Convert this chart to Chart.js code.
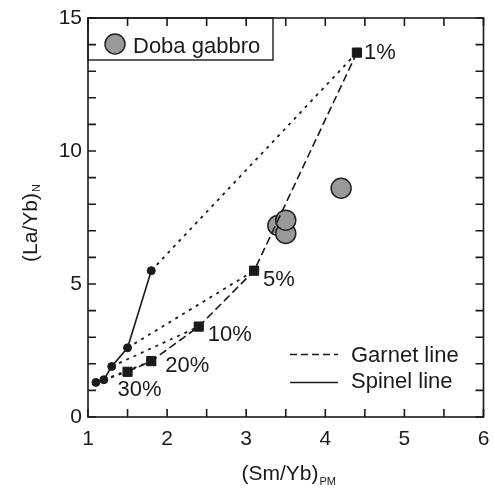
<!DOCTYPE html>
<html><head><meta charset="utf-8">
<script src="https://cdn.jsdelivr.net/npm/chart.js@4"></script>
<style>html,body{margin:0;padding:0;background:#fff}</style>
</head><body>
<canvas id="c" width="495" height="493"></canvas>
<script>
// ---- data ----
const garnetX = [4.4, 3.1, 2.4, 1.8, 1.5];
const garnetY = [13.7, 5.5, 3.4, 2.1, 1.7];
const garnetLabels = ['1%', '5%', '10%', '20%', '30%'];
const spinelX = [1.8, 1.5, 1.3, 1.2, 1.1];
const spinelY = [5.5, 2.6, 1.9, 1.4, 1.3];
const gabbroX = [3.4, 3.5, 3.5, 4.2];
const gabbroY = [7.2, 6.9, 7.4, 8.6];
const xTickLabels = [1, 2, 3, 4, 5, 6];
const yTickLabels = [0, 5, 10, 15];
const xTitle = '(Sm/Yb)', xTitleSub = 'PM';
const yTitle = '(La/Yb)', yTitleSub = 'N';
const legendGabbro = 'Doba gabbro';
const legendGarnet = 'Garnet line', legendSpinel = 'Spinel line';

const FONT = '"Liberation Sans", Arial, Helvetica, sans-serif';
const INK = '#1a1a1a';
const pts = (xs, ys) => xs.map((x, i) => ({x, y: ys[i]}));

const datasets = [];
datasets.push({label: 'garnet', data: pts(garnetX, garnetY), showLine: true,
  borderColor: INK, borderWidth: 1.6, borderDash: [8, 4], pointStyle: 'rect',
  pointRadius: 6.5, pointBackgroundColor: INK, pointBorderColor: INK, pointBorderWidth: 1, order: 1});
datasets.push({label: 'spinel', data: pts(spinelX, spinelY), showLine: true,
  borderColor: INK, borderWidth: 1.6, pointStyle: 'circle',
  pointRadius: 4, pointBackgroundColor: INK, pointBorderColor: INK, pointBorderWidth: 1, order: 2});
garnetX.forEach((gx, i) => {
  datasets.push({label: 'mix' + i, data: [{x: spinelX[i], y: spinelY[i]}, {x: gx, y: garnetY[i]}],
    showLine: true, borderColor: INK, borderWidth: 1.8, borderDash: [3, 5], pointRadius: 0, order: 3});
});
datasets.push({label: 'gabbro', data: pts(gabbroX, gabbroY), showLine: false,
  pointRadius: 10, pointBackgroundColor: '#999999', pointBorderColor: '#222', pointBorderWidth: 1.5, order: 4});

const deco = {
  id: 'deco',
  afterDatasetsDraw(chart) {
    const ctx = chart.ctx, xs = chart.scales.x, ys = chart.scales.y;
    ctx.save();
    ctx.fillStyle = INK;
    ctx.font = '22px ' + FONT;
    ctx.textBaseline = 'middle';
    ctx.textAlign = 'left';
    const off = [[7, 0], [9, 9], [9, 8], [14, 5], [-10, 18]];
    garnetLabels.forEach((t, i) => {
      const px = xs.getPixelForValue(garnetX[i]), py = ys.getPixelForValue(garnetY[i]);
      ctx.fillText(t, px + off[i][0], py + off[i][1]);
    });
    ctx.restore();
  },
  afterDraw(chart) {
    const ctx = chart.ctx, a = chart.chartArea, xs = chart.scales.x, ys = chart.scales.y;
    ctx.save();
    ctx.strokeStyle = INK;
    ctx.lineWidth = 1.6;
    ctx.setLineDash([]);
    ctx.strokeRect(a.left, a.top, a.right - a.left, a.bottom - a.top);
    const TL = 8;
    ctx.beginPath();
    xs.ticks.forEach(t => {
      const px = xs.getPixelForValue(t.value);
      ctx.moveTo(px, a.bottom); ctx.lineTo(px, a.bottom - TL);
      ctx.moveTo(px, a.top); ctx.lineTo(px, a.top + TL);
    });
    ys.ticks.forEach(t => {
      const py = ys.getPixelForValue(t.value);
      ctx.moveTo(a.left, py); ctx.lineTo(a.left + TL, py);
      ctx.moveTo(a.right, py); ctx.lineTo(a.right - TL, py);
    });
    ctx.stroke();

    // gabbro legend box
    ctx.lineWidth = 1.4;
    ctx.strokeRect(a.left, a.top, 185, 42);
    ctx.beginPath();
    ctx.arc(a.left + 27, a.top + 26, 10, 0, Math.PI * 2);
    ctx.fillStyle = '#999999'; ctx.fill();
    ctx.lineWidth = 1.5; ctx.strokeStyle = '#222'; ctx.stroke();
    ctx.fillStyle = INK;
    ctx.font = '22px ' + FONT;
    ctx.textBaseline = 'alphabetic';
    ctx.textAlign = 'left';
    ctx.fillText(legendGabbro, a.left + 45, a.top + 35);

    // line legend
    ctx.strokeStyle = INK; ctx.lineWidth = 1.6;
    ctx.beginPath(); ctx.setLineDash([7, 4]);
    ctx.moveTo(290, 354.5); ctx.lineTo(338, 354.5); ctx.stroke();
    ctx.beginPath(); ctx.setLineDash([]);
    ctx.moveTo(290, 382.5); ctx.lineTo(338, 382.5); ctx.stroke();
    ctx.textBaseline = 'middle';
    ctx.fillText(legendGarnet, 351, 356);
    ctx.fillText(legendSpinel, 351, 382);

    // x title
    ctx.textBaseline = 'alphabetic';
    ctx.font = '21px ' + FONT;
    const mw = ctx.measureText(xTitle).width;
    ctx.font = '11px ' + FONT;
    const sw = ctx.measureText(xTitleSub).width;
    const x0 = (a.left + a.right) / 2 - (mw + sw + 1) / 2 + 3;
    ctx.font = '21px ' + FONT;
    ctx.fillText(xTitle, x0, 480);
    ctx.font = '11px ' + FONT;
    ctx.fillText(xTitleSub, x0 + mw + 1, 485);

    // y title
    ctx.translate(37, 0);
    ctx.rotate(-Math.PI / 2);
    ctx.font = '21px ' + FONT;
    const yw = ctx.measureText(yTitle).width;
    ctx.font = '11px ' + FONT;
    const ysw = ctx.measureText(yTitleSub).width;
    const yc = 223;
    const start = -(yc + (yw + ysw + 1) / 2);
    ctx.font = '21px ' + FONT;
    ctx.fillText(yTitle, start, 0);
    ctx.font = '11px ' + FONT;
    ctx.fillText(yTitleSub, start + yw + 1, 3);
    ctx.restore();
  }
};

new Chart(document.getElementById('c'), {
  type: 'scatter',
  data: {datasets},
  options: {
    responsive: false, animation: false, devicePixelRatio: 1,
    layout: {padding: {top: 18, right: 9, left: 0, bottom: 0}},
    plugins: {legend: {display: false}, tooltip: {enabled: false}},
    scales: {
      x: {type: 'linear', min: 1, max: 6,
        grid: {display: false, drawTicks: false}, border: {display: false},
        ticks: {stepSize: 0.5, autoSkip: false, maxRotation: 0, padding: 10, color: INK,
          font: {size: 21, family: FONT},
          callback: v => xTickLabels.includes(v) ? String(v) : ''},
        afterFit: s => { s.height = 76; s.paddingRight = 0; s.paddingLeft = 0; }},
      y: {type: 'linear', min: 0, max: 15,
        grid: {display: false, drawTicks: false}, border: {display: false},
        ticks: {stepSize: 1, autoSkip: false, padding: 6, color: INK,
          font: {size: 21, family: FONT},
          callback: v => yTickLabels.includes(v) ? String(v) : ''},
        afterFit: s => { s.width = 88; s.paddingTop = 0; s.paddingBottom = 0; }}
    }
  },
  plugins: [deco]
});
</script>
</body></html>
